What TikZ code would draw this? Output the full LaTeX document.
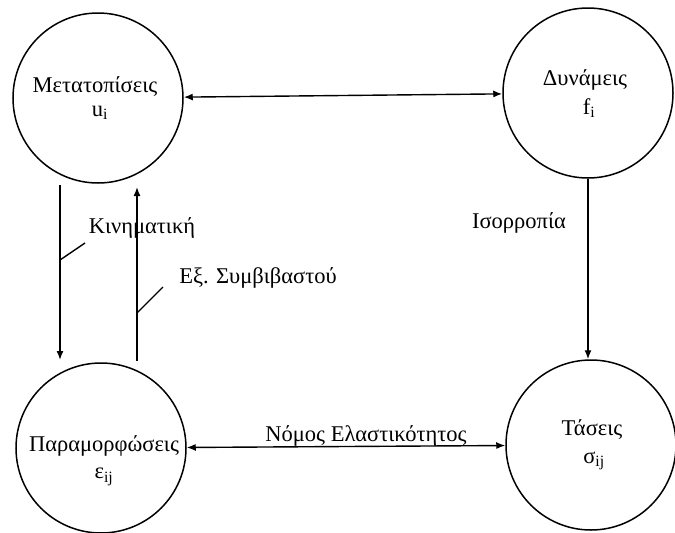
\documentclass[tikz,border=0pt]{standalone}
\usepackage{fontspec}
\setmainfont{Liberation Serif}
\usetikzlibrary{arrows.meta}
\begin{document}
\begin{tikzpicture}[x=1pt,y=-1pt,
  state/.style={draw,circle,minimum size=170pt,inner sep=0pt,line width=1.5pt},
  txt/.style={font=\fontsize{22.5}{26}\selectfont,inner sep=0pt},
  conn/.style={line width=1.4pt,-{Latex[length=9pt,width=7pt]}},
  bconn/.style={line width=1.4pt,{Latex[length=9pt,width=7pt]}-{Latex[length=9pt,width=7pt]}},
  leader/.style={line width=1.4pt}]
\useasboundingbox (0,0) rectangle (675,533);
% circles
\node[state] (M) at (98,98) {};
\node[state] (D) at (588,93) {};
\node[state] (P) at (101,448) {};
\node[state] (T) at (591,445) {};
% circle texts
\node[txt] (Mt) at (95,87) {Μετατοπίσεις};
\node[txt] (Mv) at (100,113) {u\textsubscript{i}};
\node[txt] (Dt) at (585,80) {Δυνάμεις};
\node[txt] (Dv) at (589,108) {f\textsubscript{i}};
\node[txt] (Pt) at (104,446) {Παραμορφώσεις};
\node[txt] (Pv) at (104,477) {ε\textsubscript{ij}};
\node[txt] (Tt) at (592,430) {Τάσεις};
\node[txt] (Tv) at (594,461) {σ\textsubscript{ij}};
% connectors
\draw[bconn] (M) -- (D);
\draw[bconn] (P) -- (T);
\draw[conn] (D.south) -- (D.south |- T.north);
\coordinate (k1) at (60,185);
\coordinate (k2) at (60,360);
\coordinate (s1) at (137,361);
\coordinate (s2) at (137,187);
\draw[conn] (k1) -- (k2);
\draw[conn] (s1) -- (s2);
\coordinate (kl1) at (60,260);
\coordinate (kl2) at (85,243);
\coordinate (sl1) at (137,313);
\coordinate (sl2) at (163,287);
\draw[leader] (kl1) -- (kl2);
\draw[leader] (sl1) -- (sl2);
% labels
\node[txt] (kin) at (142,228) {Κινηματική};
\node[txt] (exs) at (258,278) {Εξ. Συμβιβαστού};
\node[txt] (iso) at (519,223) {Ισορροπία};
\node[txt] (nom) at (366,436) {Νόμος Ελαστικότητος};
\end{tikzpicture}
\end{document}
